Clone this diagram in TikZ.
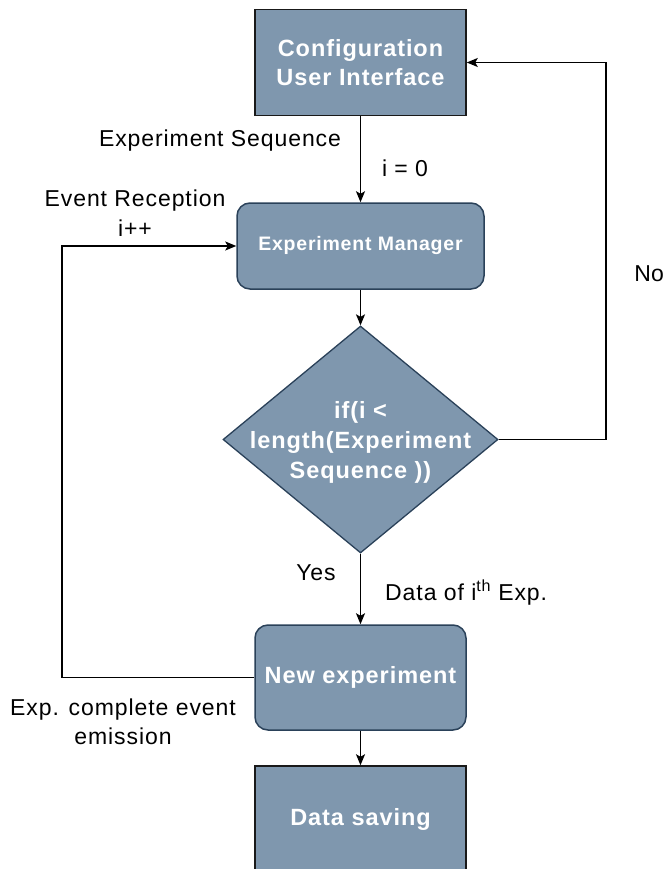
\documentclass[tikz,border=0pt]{standalone}
\usepackage{fontspec}
\setmainfont{Liberation Sans}
\newfontfamily\spacedfont[LetterSpace=4]{Liberation Sans}
\usetikzlibrary{shapes.geometric,arrows.meta}
\definecolor{boxfill}{HTML}{7F97AE}
\definecolor{boxedge}{HTML}{2A4159}
\begin{document}
\begin{tikzpicture}[x=1pt,y=-1pt,
  sqbox/.style={draw=black!90, line width=1.5pt, fill=boxfill, minimum width=211pt, minimum height=106pt, inner sep=0pt, text=white, font=\spacedfont\bfseries\fontsize{23.5}{29}\selectfont, align=center},
  rbox/.style={draw=boxedge, line width=1.5pt, fill=boxfill, rounded corners=13pt, inner sep=0pt, text=white, font=\spacedfont\bfseries\fontsize{23.5}{29}\selectfont, align=center},
  lbl/.style={font=\spacedfont\fontsize{23}{29.5}\selectfont, align=center, inner sep=0pt},
  conn/.style={line width=1.4pt, -{Stealth[length=11pt,width=9pt,inset=2.5pt]}},
  plain/.style={line width=1.4pt}]
\useasboundingbox (0,0) rectangle (665,869);
\node[sqbox] (cfg) at (360.5,62.5) {Configuration\\User Interface};
\node[rbox, minimum width=247pt, minimum height=86pt, font=\spacedfont\bfseries\fontsize{19.5}{24}\selectfont] (mgr) at (360.5,246) {Experiment Manager};
\node[diamond, draw=boxedge, line width=1.3pt, fill=boxfill, minimum width=275pt, minimum height=227pt, inner sep=0pt] (dec) at (360.5,439.5) {};
\node[text=white, font=\spacedfont\bfseries\fontsize{23.5}{30}\selectfont, align=center] (dect) at ([yshift=-3pt]dec.center) {if(i {<}\\length(Experiment\\Sequence ))};
\node[rbox, minimum width=211pt, minimum height=105pt] (newx) at (360.5,677.5) {New experiment};
\node[sqbox] (save) at (360.5,819) {Data saving};
\coordinate (noR) at (606,439.5);
\coordinate (loopL) at (62,677.5);
\draw[conn] (cfg.south) -- (mgr.north);
\draw[conn] (mgr.south) -- (dec.north);
\draw[conn] (dec.east) -- (noR) |- (cfg.east);
\draw[conn] (dec.south) -- (newx.north);
\draw[conn] (newx.west) -- (loopL) |- (mgr.west);
\draw[conn] (newx.south) -- (save.north);
\node[lbl] (l1) at (220,141) {Experiment Sequence};
\node[lbl] (l2) at (405,168) {i = 0};
\node[lbl] (l3) at (135,213) {Event Reception\\i++};
\node[lbl, anchor=east, font=\fontsize{23}{29.5}\selectfont] (l4) at (664,274) {No};
\node[lbl] (l5) at (316,573) {Yes};
\node[lbl, anchor=west] (l6) at (385,593) {Data of i\textsuperscript{th} Exp.};
\node[lbl] (l7) at (123,722) {Exp. complete event\\emission};
\end{tikzpicture}
\end{document}
